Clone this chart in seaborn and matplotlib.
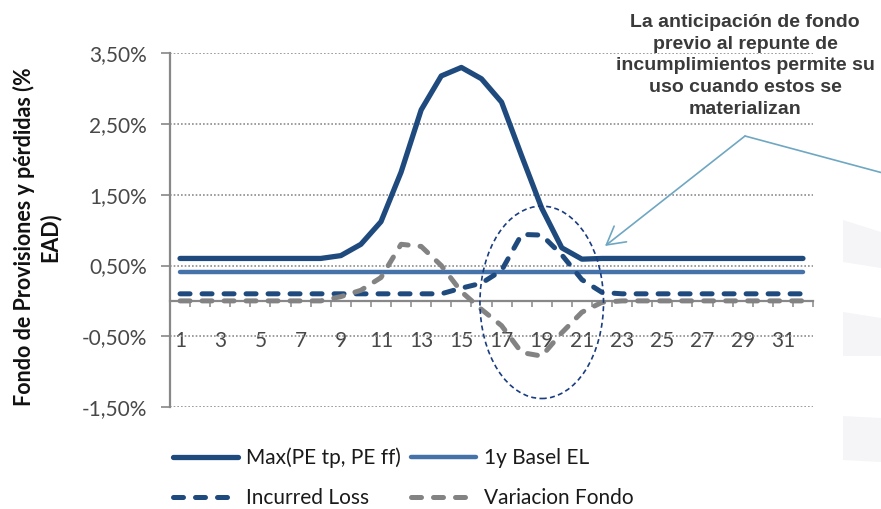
import matplotlib
matplotlib.use("Agg")
import matplotlib.pyplot as plt
import seaborn as sns
import numpy as np
import pandas as pd
from matplotlib.patches import Ellipse, Polygon
from matplotlib.lines import Line2D

# ---------------- data ----------------
periods = list(range(1, 33))
max_pe = [0.60, 0.60, 0.60, 0.60, 0.60, 0.60, 0.60, 0.60, 0.64, 0.80, 1.12, 1.82,
          2.70, 3.18, 3.30, 3.14, 2.81, 2.05, 1.31, 0.75, 0.59, 0.60, 0.60, 0.60,
          0.60, 0.60, 0.60, 0.60, 0.60, 0.60, 0.60, 0.60]
basel_el = [0.41] * 32
incurred = [0.10, 0.10, 0.10, 0.10, 0.10, 0.10, 0.10, 0.10, 0.10, 0.10, 0.10, 0.10,
            0.10, 0.10, 0.18, 0.25, 0.43, 0.94, 0.93, 0.65, 0.30, 0.12, 0.10, 0.10,
            0.10, 0.10, 0.10, 0.10, 0.10, 0.10, 0.10, 0.10]
variacion = [0.0, 0.0, 0.0, 0.0, 0.0, 0.0, 0.0, 0.0, 0.06, 0.15, 0.33, 0.80,
             0.77, 0.50, 0.13, -0.12, -0.35, -0.73, -0.78, -0.45, -0.16, -0.02, 0.0, 0.0,
             0.0, 0.0, 0.0, 0.0, 0.0, 0.0, 0.0, 0.0]
series_names = ["Max(PE tp, PE ff)", "1y Basel EL", "Incurred Loss", "Variacion Fondo"]
y_ticks = [-1.5, -0.5, 0.5, 1.5, 2.5, 3.5]
x_ticks = list(range(1, 32, 2))
y_label = "Fondo de Provisiones y pérdidas (%\nEAD)"
note = ("La anticipación de fondo\nprevio al repunte de\nincumplimientos permite su\n"
        "uso cuando estos se\nmaterializan")

df = pd.DataFrame({"x": periods, "max": max_pe, "basel": basel_el,
                   "inc": incurred, "var": variacion})

# ---------------- style ----------------
sns.set_theme(style="white")
plt.rcParams["font.family"] = ["Lato", "DejaVu Sans"]

W, H = 881, 509
fig = plt.figure(figsize=(W / 100, H / 100), dpi=100)
fig.patch.set_facecolor("white")

# faint watermark bands on right edge
band_col = "#f5f5f7"
for pts in [[(843, 220), (881, 232), (881, 268), (843, 262)],
            [(843, 312), (881, 318), (881, 356), (843, 356)],
            [(843, 416), (881, 418), (881, 462), (843, 460)]]:
    fig.add_artist(Polygon([(px / W, 1 - py / H) for px, py in pts],
                           closed=True, transform=fig.transFigure,
                           facecolor=band_col, edgecolor="none", zorder=0))

left, right = 170 / W, 813 / W
bottom, top = 1 - 407 / H, 1 - 53.3 / H
ax = fig.add_axes([left, bottom, right - left, top - bottom])
ax.set_facecolor("none")

c_max = "#1f4a7e"
c_basel = "#4672aa"
c_gray = "#838383"

sns.lineplot(data=df, x="x", y="max", ax=ax, color=c_max, linewidth=3.8,
             solid_capstyle="round", zorder=4)
h_max = ax.lines[-1]
sns.lineplot(data=df, x="x", y="basel", ax=ax, color=c_basel, linewidth=3.2,
             solid_capstyle="round", zorder=4)
h_basel = ax.lines[-1]
sns.lineplot(data=df, x="x", y="inc", ax=ax, color=c_max, linewidth=3.6,
             linestyle=(0, (2.0, 2.4)), dash_capstyle="round", zorder=4)
h_inc = ax.lines[-1]
sns.lineplot(data=df, x="x", y="var", ax=ax, color=c_gray, linewidth=3.6,
             linestyle=(0, (2.0, 2.4)), dash_capstyle="round", zorder=4)
h_var = ax.lines[-1]

ax.set_xlim(0.5, 32.5)
ax.set_ylim(-1.5, 3.5)

# gridlines
for yv in y_ticks:
    ax.axhline(yv, color="#8c8c8c", linewidth=1.2, linestyle=(0, (1, 1.2)), zorder=1)

# spines
for s in ["top", "right"]:
    ax.spines[s].set_visible(False)
ax.spines["left"].set_color("#888888")
ax.spines["left"].set_linewidth(1.6)
ax.spines["bottom"].set_position(("data", 0))
ax.spines["bottom"].set_color("#888888")
ax.spines["bottom"].set_linewidth(1.6)
ax.spines["bottom"].set_zorder(3)

ax.set_yticks(y_ticks)
ax.set_yticklabels([f"{v:.2f}%".replace(".", ",") for v in y_ticks])
ax.set_xticks(x_ticks)
ax.set_xticklabels([str(v) for v in x_ticks])
ax.set_xticks(np.arange(0.5, 33, 1.0), minor=True)
ax.tick_params(axis="y", which="major", length=6.5, width=1.2, color="#888888",
               direction="out", pad=10, labelsize=15, labelcolor="#484848", left=True)
ax.tick_params(axis="x", which="major", length=0, pad=22, labelsize=15,
               labelcolor="#484848", bottom=True)
ax.tick_params(axis="x", which="minor", length=4.3, width=1.1, color="#888888",
               direction="out", bottom=True)
ax.set_xlabel("")
ax.set_ylabel("")

# ellipse highlight
ax.add_patch(Ellipse((19, -0.02), width=6.15, height=2.72, fill=False,
                     edgecolor="#1a3c80", linewidth=1.2, linestyle=(0, (3, 2)),
                     zorder=5))

# y label
fig.text(37 / W, 1 - 237 / H, y_label, rotation=90, ha="center", va="center",
         multialignment="center", fontsize=15.5, fontweight="bold", color="#111111",
         linespacing=1.2)

# legend
leg = fig.legend([h_max, h_inc, h_basel, h_var],
                 [series_names[0], series_names[2], series_names[1], series_names[3]],
                 ncol=2, loc="center left", bbox_to_anchor=(173 / W, 1 - 478 / H),
                 frameon=False, fontsize=15, handlelength=3.1, handletextpad=0.4,
                 columnspacing=0.5, labelspacing=0.95, borderpad=0, borderaxespad=0,
                 labelcolor="#1a1a1a")

# annotation text and arrow
fig.text(745 / W, 1 - 66 / H, note, ha="center", va="center",
         fontsize=14, fontweight="bold", color="#3a3a3a",
         family=["Liberation Sans", "DejaVu Sans"], linespacing=1.36)
c_arrow = "#6fa7c2"
apex = (745, 136)
fig.add_artist(Line2D([apex[0] / W, 881 / W], [1 - apex[1] / H, 1 - 172.5 / H],
                      transform=fig.transFigure, color=c_arrow, linewidth=1.2))
ax.annotate("", xy=(605, H - 246), xycoords="figure pixels",
            xytext=(apex[0], H - apex[1]), textcoords="figure pixels",
            arrowprops=dict(arrowstyle="->,head_length=0.8,head_width=0.45",
                            color=c_arrow, lw=1.2, mutation_scale=16,
                            shrinkA=0, shrinkB=0),
            annotation_clip=False)

fig.savefig("out.png", dpi=100)
